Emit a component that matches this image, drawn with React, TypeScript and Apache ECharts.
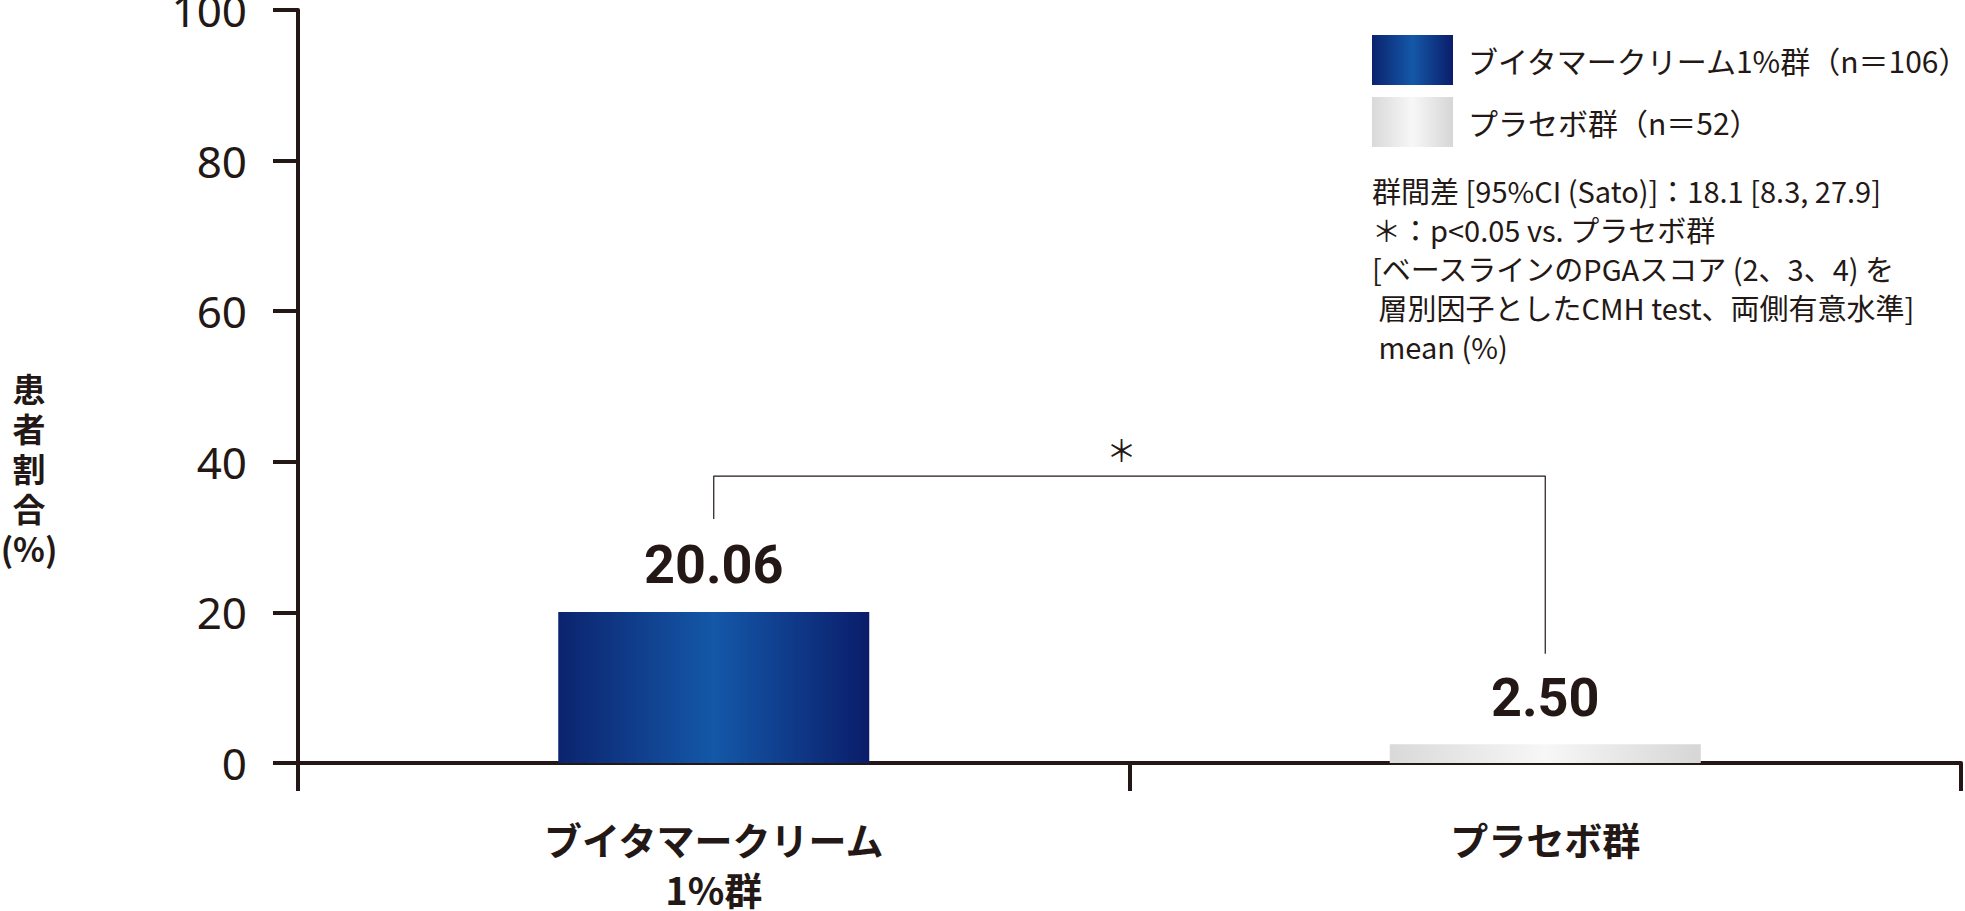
import React, { useEffect, useRef } from 'react';
import * as echarts from 'echarts';

const INK = '#231815';

const categories = ['ブイタマークリーム\n1%群', 'プラセボ群'];
const seriesNames = ['ブイタマークリーム1%群（n＝106）', 'プラセボ群（n＝52）'];
const seriesValues = [20.06, 2.5];
const yTicks = { min: 0, max: 100, interval: 20 };
// bracket between groups: [category index, value]
const bracket = [[0, 32.4], [0, 38.1], [1, 38.1], [1, 14.5]];
const asteriskValue = 41.7;
const yAxisTitle = '患\n者\n割\n合\n(%)';
const notes = [
  '群間差 [95%CI (Sato)]：18.1 [8.3, 27.9]',
  '＊：p<0.05 vs. プラセボ群',
  '[ベースラインのPGAスコア (2、3、4) を',
  ' 層別因子としたCMH test、両側有意水準]',
  ' mean (%)',
];

const blueFill = new echarts.graphic.LinearGradient(0, 0, 1, 0, [
  { offset: 0, color: '#0b236e' },
  { offset: 0.5, color: '#1458a8' },
  { offset: 1, color: '#0a1d6a' },
]);
const greyFill = new echarts.graphic.LinearGradient(0, 0, 1, 0, [
  { offset: 0, color: '#d9d9d9' },
  { offset: 0.5, color: '#f7f7f7' },
  { offset: 1, color: '#d6d6d6' },
]);
const fills = [blueFill, greyFill];

const App: React.FC = () => {
  const chartRef = useRef<HTMLDivElement>(null);

  useEffect(() => {
    document.body.style.margin = '0';
    if (!chartRef.current) return;
    const chart = echarts.init(chartRef.current, undefined, { renderer: 'svg' });

    const barSeries = seriesNames.map((name, i) => ({
      name,
      type: 'bar' as const,
      data: seriesValues.map((v, j) => (j === i ? v : '-')),
      barWidth: 311,
      barGap: '-100%',
      itemStyle: { color: fills[i] },
      label: {
        show: true,
        position: 'top' as const,
        distance: 20,
        formatter: (p: any) => Number(p.value).toFixed(2),
        fontFamily: '"Liberation Sans Narrow", "Roboto", sans-serif',
        fontWeight: 'bold' as const,
        fontSize: 54,
        color: INK,
      },
    }));

    chart.setOption({
      animation: false,
      grid: { left: 298, right: 4, top: 10, bottom: 148, outerBoundsMode: 'none', containLabel: false },
      legend: {
        data: seriesNames,
        orient: 'vertical',
        left: 1372,
        top: 35,
        padding: 0,
        itemWidth: 81,
        itemHeight: 50,
        itemGap: 12,
        icon: 'rect',
        textStyle: {
          fontFamily: '"Noto Sans CJK JP", sans-serif',
          fontSize: 30,
          color: INK,
          padding: [0, 0, 0, 10],
        },
      },
      xAxis: {
        type: 'category',
        data: categories,
        axisLine: { lineStyle: { color: INK, width: 4 } },
        axisTick: { show: true, length: 28, lineStyle: { color: INK, width: 4 } },
        axisLabel: {
          margin: 50,
          fontFamily: '"Noto Sans CJK JP", sans-serif',
          fontWeight: 'bold',
          fontSize: 38,
          lineHeight: 50,
          color: INK,
        },
      },
      yAxis: {
        type: 'value',
        ...yTicks,
        splitLine: { show: false },
        axisLine: { show: true, lineStyle: { color: INK, width: 4 } },
        axisTick: { show: true, length: 25, lineStyle: { color: INK, width: 4 } },
        axisLabel: {
          margin: 51,
          fontFamily: '"Noto Sans", sans-serif',
          fontSize: 44,
          color: INK,
        },
      },
      series: [
        ...barSeries,
        {
          type: 'line',
          data: bracket,
          symbol: 'none',
          silent: true,
          lineStyle: { color: INK, width: 1.2 },
          z: 1,
        },
      ],
      graphic: [
        {
          type: 'text',
          x: 29,
          y: 368,
          style: {
            text: yAxisTitle,
            fontFamily: '"Noto Sans CJK JP", sans-serif',
            fontWeight: 'bold',
            fontSize: 33,
            lineHeight: 40,
            align: 'center',
            verticalAlign: 'top',
            fill: INK,
          },
        },
        {
          type: 'text',
          left: 1372,
          top: 170,
          style: {
            text: notes.join('\n'),
            fontFamily: '"Noto Sans CJK JP", sans-serif',
            fontSize: 29,
            lineHeight: 39,
            fill: INK,
          },
        },
      ],
    });

    const p0 = chart.convertToPixel({ xAxisIndex: 0, yAxisIndex: 0 }, [0, asteriskValue]) as number[];
    const p1 = chart.convertToPixel({ xAxisIndex: 0, yAxisIndex: 0 }, [1, asteriskValue]) as number[];
    chart.setOption({
      graphic: [
        {
          id: 'asterisk',
          type: 'text',
          x: (p0[0] + p1[0]) / 2 - 8,
          y: p0[1],
          style: {
            text: '＊',
            fontFamily: '"Noto Sans CJK JP", sans-serif',
            fontSize: 30,
            align: 'center',
            verticalAlign: 'middle',
            fill: INK,
          },
        },
      ],
    });

    return () => chart.dispose();
  }, []);

  return <div ref={chartRef} style={{ width: '1965px', height: '911px' }} />;
};

export default App;
